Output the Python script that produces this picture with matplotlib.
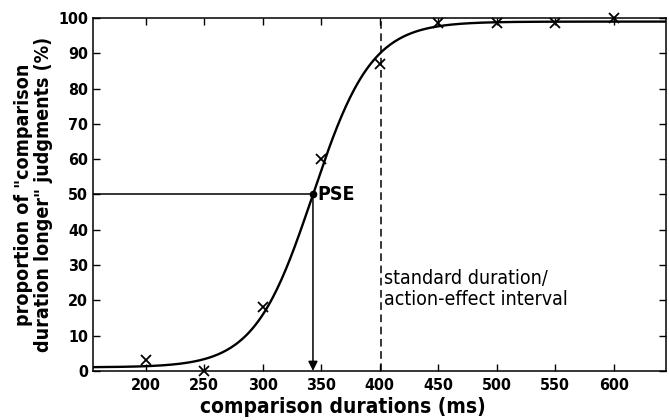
import numpy as np
import matplotlib.pyplot as plt

# observed proportions
durations = [200, 250, 300, 350, 400, 450, 500, 550, 600]
proportions = [3, 0, 18, 60, 87, 98.5, 98.5, 98.5, 100]

# fitted logistic parameters
pse = 343
slope = 25
lower = 1.0
upper = 99.0
standard = 401

xticks = [200, 250, 300, 350, 400, 450, 500, 550, 600]
yticks = list(range(0, 101, 10))

plt.rcParams['font.family'] = ['DejaVu Sans']
plt.rcParams['font.stretch'] = 'condensed'

fig = plt.figure(figsize=(6.69, 4.2), dpi=100)
ax = fig.add_axes([0.139, 0.117, 0.857, 0.84])

xfit = np.linspace(155, 645, 400)
yfit = lower + (upper - lower) / (1 + np.exp(-(xfit - pse) / slope))
ax.plot(xfit, yfit, color='black', lw=1.7)
ax.plot(durations, proportions, 'x', color='black', ms=7.5, mew=1.3, clip_on=False)

# PSE guide lines
ax.plot([155, pse], [50, 50], color='black', lw=1.1)
ax.plot(pse, 50, 'o', color='black', ms=4.5)
ax.annotate('', xy=(pse, 0), xytext=(pse, 50),
            arrowprops=dict(arrowstyle='-|>', color='black', lw=1.1,
                            mutation_scale=14, shrinkA=0, shrinkB=0))
ax.text(pse + 4, 50, 'PSE', fontsize=14, fontweight='bold', va='center', ha='left')

ax.plot([standard, standard], [0, 100], color='black', lw=1.1, ls=(0, (5, 3)))
ax.text(standard + 3, 29, 'standard duration/\naction-effect interval',
        fontsize=14, va='top', ha='left', linespacing=1.15)

ax.set_xlim(155, 645)
ax.set_ylim(0, 100)
ax.set_xticks(xticks)
ax.set_yticks(yticks)
ax.tick_params(direction='in', top=True, right=True, length=5, width=1, labelsize=11.5)
ax.tick_params(axis='x', pad=5)
for lab in ax.get_xticklabels() + ax.get_yticklabels():
    lab.set_fontweight('bold')
for s in ax.spines.values():
    s.set_linewidth(1.1)

ax.set_xlabel('comparison durations (ms)', fontsize=15, fontweight='bold')
ax.xaxis.set_label_coords(0.435, -0.075)
ax.set_ylabel('proportion of "comparison\nduration longer" judgments (%)',
              fontsize=14, fontweight='bold', labelpad=4, linespacing=1.05)

fig.savefig('out.png', dpi=100)
